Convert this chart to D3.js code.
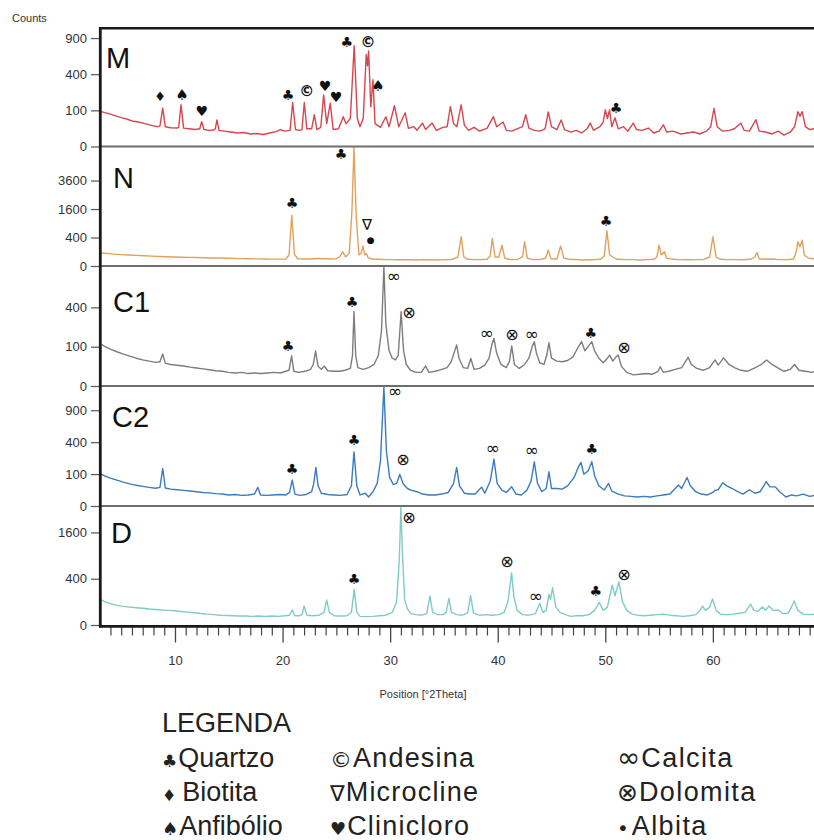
<!DOCTYPE html>
<html><head><meta charset="utf-8">
<script src="https://cdn.jsdelivr.net/npm/d3@7"></script>
<style>
body{margin:0;background:#fff}
text{font-family:"Liberation Sans",Arial,sans-serif}
</style>
</head><body>
<svg id="c" width="814" height="840"></svg>
<script>
// ---------------- DATA ----------------
const panelNames = ["M","N","C1","C2","D"];
const panelMax = [1075, 7040, 932, 1413, 2644];
const panelTicks = [[0,100,400,900],[0,400,1600,3600],[0,100,400],[0,100,400,900],[0,400,1600]];
const thetaTicks = [10,20,30,40,50,60];
const thetaMinor = [4,5,6,7,8,9,11,12,13,14,15,16,17,18,19,21,22,23,24,25,26,27,28,29,31,32,33,34,35,36,37,38,39,41,42,43,44,45,46,47,48,49,51,52,53,54,55,56,57,58,59,61,62,63,64,65,66,67,68,69];

const seriesM = [[3.0,95],[3.5,88],[4.0,80],[4.5,72],[5.0,64],[5.5,58],[6.0,50],[6.6,46],[7.2,40],[7.8,34],[8.4,30],[8.6,32],[8.86,113],[9.1,30],[9.6,27],[10.2,26],[10.35,28],[10.56,133],[10.8,26],[11.3,24],[11.9,22],[12.3,24],[12.48,47],[12.7,22],[13.2,20],[13.6,21],[13.75,24],[13.9,54],[14.1,20],[14.6,18],[15.2,16],[15.8,14],[16.4,15],[17.0,12],[17.6,13],[18.2,11],[18.8,14],[19.4,17],[19.8,22],[20.2,18],[20.7,20],[20.94,148],[21.2,22],[21.6,20],[21.8,22],[22.02,148],[22.25,24],[22.7,24],[22.95,77],[23.2,22],[23.55,28],[23.82,204],[24.1,40],[24.44,144],[24.7,22],[25.2,24],[25.64,68],[25.9,40],[26.3,60],[26.66,779],[26.95,60],[27.2,30],[27.5,60],[27.78,650],[27.9,500],[28.0,700],[28.2,120],[28.4,341],[28.6,40],[29.1,28],[29.6,68],[29.9,30],[30.4,127],[30.8,30],[31.4,87],[31.7,25],[32.2,30],[32.5,20],[33.0,42],[33.3,22],[33.9,42],[34.3,20],[34.9,28],[35.3,30],[35.6,122],[35.9,40],[36.2,30],[36.6,133],[36.9,35],[37.3,20],[37.8,28],[38.3,18],[39.0,25],[39.6,68],[39.9,30],[40.5,46],[40.8,20],[41.3,18],[41.8,24],[42.3,30],[42.6,77],[42.9,26],[43.4,20],[43.9,18],[44.4,24],[44.7,92],[45.0,30],[45.5,22],[45.9,54],[46.2,22],[46.8,16],[47.3,20],[47.8,14],[48.3,24],[48.6,42],[48.9,20],[49.5,30],[49.8,45],[50.0,103],[50.2,60],[50.4,103],[50.6,30],[50.9,63],[51.2,24],[51.7,30],[52.1,18],[52.6,42],[52.9,22],[53.4,20],[54.0,26],[54.5,14],[55.0,18],[55.4,36],[55.7,16],[56.3,18],[57.0,12],[57.6,14],[58.2,16],[58.8,12],[59.4,18],[59.8,30],[60.1,112],[60.4,30],[60.9,18],[61.5,20],[62.0,24],[62.6,42],[62.9,20],[63.4,18],[64.0,55],[64.3,18],[64.9,16],[65.5,12],[66.1,18],[66.6,10],[67.2,16],[67.6,30],[67.9,93],[68.1,70],[68.3,93],[68.6,30],[69.0,22],[69.6,25]];

const seriesN = [[3.0,86],[3.6,78],[4.3,70],[5.0,64],[5.7,60],[6.4,56],[7.1,52],[7.8,48],[8.5,45],[9.2,42],[9.9,40],[10.6,38],[11.3,37],[12.0,36],[12.7,34],[13.4,32],[14.1,31],[14.8,30],[15.5,29],[16.2,27],[16.9,26],[17.6,25],[18.3,24],[19.0,23],[19.7,23],[20.3,24],[20.6,60],[20.86,1272],[21.1,70],[21.4,26],[22.0,24],[22.6,24],[23.2,28],[23.8,26],[24.4,24],[25.0,26],[25.3,40],[25.6,100],[25.85,40],[26.2,80],[26.45,1500],[26.64,6960],[26.85,1200],[27.1,60],[27.3,80],[27.47,196],[27.65,60],[27.8,75],[27.95,35],[28.3,24],[28.9,22],[29.5,20],[30.1,20],[30.7,19],[31.3,20],[31.9,19],[32.5,18],[33.1,20],[33.7,19],[34.3,18],[35.0,20],[35.7,20],[36.3,40],[36.6,420],[36.85,40],[37.2,22],[37.8,20],[38.4,20],[39.0,22],[39.3,50],[39.5,375],[39.75,40],[40.1,40],[40.4,216],[40.65,30],[41.2,20],[41.8,20],[42.3,40],[42.5,289],[42.75,30],[43.3,20],[43.9,20],[44.45,30],[44.7,125],[44.95,25],[45.5,24],[45.85,196],[46.15,30],[46.7,22],[47.3,20],[47.9,18],[48.5,19],[49.1,20],[49.6,24],[49.9,50],[50.15,610],[50.4,60],[50.7,40],[51.1,22],[51.8,20],[52.5,20],[53.2,18],[53.9,20],[54.5,22],[54.8,40],[55.0,216],[55.2,60],[55.5,100],[55.7,30],[56.3,22],[57.0,20],[57.7,19],[58.4,20],[59.1,20],[59.7,40],[60.0,420],[60.3,40],[60.7,22],[61.4,20],[62.1,20],[62.8,19],[63.5,22],[63.9,40],[64.1,90],[64.3,26],[64.9,22],[65.5,24],[66.2,20],[66.9,20],[67.5,24],[67.75,100],[67.9,289],[68.1,180],[68.3,330],[68.5,60],[68.9,30],[69.6,24]];

const seriesC1 = [[3.0,118],[3.5,100],[4.0,88],[4.6,76],[5.2,66],[5.8,58],[6.4,50],[7.0,44],[7.6,40],[8.2,36],[8.6,38],[8.86,66],[9.1,34],[9.6,30],[10.2,28],[10.8,26],[11.4,23],[12.0,21],[12.6,19],[13.2,17],[13.8,15],[14.4,14],[15.0,12],[15.6,11],[16.2,12],[16.8,10],[17.4,11],[18.0,10],[18.6,11],[19.2,12],[19.8,11],[20.3,14],[20.6,16],[20.84,59],[21.05,14],[21.5,12],[22.1,14],[22.6,18],[22.85,30],[23.07,79],[23.3,25],[23.6,18],[23.9,25],[24.2,15],[24.8,14],[25.3,14],[25.8,16],[26.3,20],[26.5,60],[26.64,357],[26.8,60],[27.0,22],[27.5,18],[28.0,22],[28.5,30],[28.9,60],[29.2,200],[29.42,921],[29.6,250],[29.9,80],[30.2,50],[30.5,44],[30.75,60],[31.02,357],[31.25,80],[31.5,30],[31.9,16],[32.4,12],[32.9,12],[33.3,26],[33.6,12],[34.2,14],[34.8,18],[35.3,22],[35.7,40],[36.0,80],[36.18,109],[36.4,50],[36.8,22],[37.2,20],[37.5,49],[37.8,18],[38.3,20],[38.8,28],[39.2,50],[39.45,110],[39.65,147],[39.9,70],[40.3,30],[40.8,22],[41.1,40],[41.3,104],[41.55,30],[42.0,20],[42.5,30],[42.9,50],[43.2,100],[43.4,127],[43.6,70],[43.9,35],[44.3,30],[44.55,60],[44.76,121],[45.0,50],[45.5,40],[46.0,38],[46.5,42],[47.0,55],[47.4,90],[47.8,127],[48.1,80],[48.4,100],[48.75,127],[49.0,80],[49.4,50],[49.8,35],[50.2,50],[50.4,62],[50.7,40],[51.0,55],[51.2,62],[51.5,25],[52.0,12],[52.6,8],[53.2,9],[53.8,10],[54.4,9],[54.9,14],[55.1,24],[55.4,12],[55.9,14],[56.5,18],[57.1,22],[57.7,53],[58.0,30],[58.5,20],[59.1,16],[59.7,22],[60.2,44],[60.5,28],[61.0,51],[61.5,30],[62.0,22],[62.6,16],[63.2,14],[63.8,20],[64.4,28],[65.0,44],[65.5,30],[66.0,22],[66.6,14],[67.2,18],[67.6,30],[68.0,16],[68.6,14],[69.2,12],[69.6,14]];

const seriesC2 = [[3.0,104],[3.5,88],[4.0,76],[4.6,66],[5.2,56],[5.8,48],[6.4,42],[7.0,38],[7.6,34],[8.2,31],[8.6,34],[8.86,139],[9.1,32],[9.6,28],[10.2,26],[10.8,24],[11.4,22],[12.0,20],[12.6,18],[13.2,17],[13.8,15],[14.4,14],[15.0,12],[15.6,13],[16.2,11],[16.8,12],[17.4,14],[17.7,34],[17.95,12],[18.5,11],[19.1,12],[19.7,13],[20.3,12],[20.65,18],[20.9,66],[21.15,14],[21.6,11],[22.2,13],[22.7,20],[22.9,50],[23.1,146],[23.3,40],[23.6,16],[24.2,13],[24.8,12],[25.4,11],[26.0,13],[26.4,40],[26.64,288],[26.9,40],[27.2,12],[27.7,16],[28.0,8],[28.4,20],[28.8,50],[29.1,200],[29.42,1390],[29.65,300],[29.95,80],[30.3,45],[30.6,50],[30.9,98],[31.2,50],[31.6,30],[32.0,24],[32.5,20],[33.0,14],[33.6,12],[34.2,12],[34.8,14],[35.4,18],[35.9,50],[36.18,146],[36.45,40],[36.9,16],[37.4,14],[37.9,14],[38.5,35],[38.8,16],[39.3,60],[39.65,216],[39.95,50],[40.4,24],[40.8,18],[41.3,36],[41.7,14],[42.2,12],[42.7,24],[43.1,60],[43.4,192],[43.7,50],[44.1,20],[44.5,30],[44.76,115],[45.0,30],[45.5,30],[46.0,28],[46.5,40],[47.1,80],[47.5,150],[47.74,186],[48.0,100],[48.4,120],[48.75,192],[49.0,90],[49.4,40],[49.9,25],[50.3,50],[50.6,22],[51.2,14],[51.8,10],[52.4,9],[53.0,8],[53.6,9],[54.2,8],[54.8,10],[55.4,12],[56.0,14],[56.5,30],[56.8,43],[57.1,30],[57.6,80],[57.9,40],[58.4,20],[58.9,14],[59.5,12],[60.0,18],[60.2,24],[60.5,26],[60.9,53],[61.3,40],[61.8,30],[62.3,20],[62.8,14],[63.4,26],[63.9,16],[64.4,20],[64.96,58],[65.3,36],[65.8,36],[66.2,20],[66.8,8],[67.3,12],[67.8,10],[68.4,14],[69.0,9],[69.6,12]];

const seriesD = [[3.0,126],[3.5,100],[4.0,85],[4.6,72],[5.2,65],[5.8,60],[6.4,56],[7.0,52],[7.6,48],[8.2,45],[8.8,42],[9.4,40],[10.0,38],[10.6,34],[11.2,31],[11.8,28],[12.4,25],[13.0,22],[13.6,20],[14.2,18],[14.8,17],[15.4,16],[16.0,15],[16.6,15],[17.2,14],[17.8,15],[18.4,14],[19.0,15],[19.6,14],[20.2,16],[20.65,18],[20.9,42],[21.15,16],[21.6,16],[21.8,20],[22.0,67],[22.25,18],[22.8,16],[23.4,18],[23.85,30],[24.1,116],[24.35,30],[24.8,16],[25.4,15],[26.0,16],[26.4,30],[26.66,237],[26.9,30],[27.2,14],[27.8,13],[28.4,14],[29.0,16],[29.6,18],[30.2,30],[30.6,100],[30.85,800],[31.0,2600],[31.15,900],[31.35,120],[31.6,50],[31.9,24],[32.4,20],[32.9,18],[33.4,24],[33.7,156],[33.95,30],[34.4,20],[34.9,20],[35.2,30],[35.46,132],[35.7,30],[36.2,20],[36.7,18],[37.2,26],[37.48,160],[37.75,26],[38.3,18],[38.9,20],[39.5,18],[40.1,20],[40.6,30],[40.95,100],[41.29,508],[41.5,150],[41.8,40],[42.3,20],[42.9,18],[43.5,24],[43.9,87],[44.2,30],[44.5,40],[44.76,175],[44.9,120],[45.1,259],[45.4,60],[45.8,30],[46.3,20],[46.8,14],[47.3,16],[47.9,16],[48.5,20],[49.0,40],[49.45,96],[49.8,40],[50.2,60],[50.64,297],[50.9,160],[51.26,348],[51.6,100],[52.0,40],[52.5,22],[53.0,18],[53.6,16],[54.2,18],[54.8,20],[55.4,22],[56.0,18],[56.6,16],[57.2,14],[57.8,16],[58.4,20],[58.8,40],[59.05,67],[59.3,40],[59.7,60],[59.97,126],[60.3,40],[60.7,22],[61.3,20],[61.9,22],[62.5,26],[63.0,30],[63.5,82],[63.8,40],[64.2,35],[64.6,61],[64.9,40],[65.2,67],[65.6,40],[66.1,42],[66.5,24],[67.0,26],[67.3,60],[67.56,107],[67.9,40],[68.4,22],[69.0,20],[69.6,22]];

// peak labels: [symbol, 2theta, counts]
const markersM = [["♦",8.61,189],["♠",10.65,205],["♥",12.5,97],["♣",20.5,205],["©",22.26,238],["♥",23.94,282],["♥",24.96,189],["♣",25.98,843],["©",27.94,843],["♠",28.87,282],["♣",50.99,114]];
const markersN = [["♣",20.87,1941],["♣",25.43,6134],["∇",27.85,822],["●",28.2,331],["♣",50.06,990]];
const markersC1 = [["♣",20.5,104],["♣",26.45,457],["∞",30.35,783],["⊗",31.74,345],["∞",39.0,182],["⊗",41.32,175],["∞",43.18,175],["♣",48.66,182],["⊗",51.73,98]];
const markersC2 = [["♣",20.87,134],["♣",26.64,425],["∞",30.45,1291],["⊗",31.2,216],["∞",39.55,328],["∞",43.18,306],["♣",48.75,317]];
const markersD = [["♣",26.64,393],["⊗",31.74,2167],["⊗",40.85,761],["∞",43.55,156],["♣",49.12,215],["⊗",51.73,483]];

const legendSymbols = ["♣","♦","♠","©","∇","♥","∞","⊗","•"];
const legendNames = ["Quartzo","Biotita","Anfibólio","Andesina","Microcline","Clinicloro","Calcita","Dolomita","Albita"];

// ---------------- DRAW ----------------
const series = [seriesM, seriesN, seriesC1, seriesC2, seriesD];
const markers = [markersM, markersN, markersC1, markersC2, markersD];
const colors = ["#d6464f","#e0a25c","#7d7d7d","#3a7cbd","#80cbc6"];
const zeros = [146.5, 266, 386, 506, 625];
const tops = [28, 146.5, 266, 386, 506];
const labelPos = [[106,68],[113,188],[113,312],[112,427],[111,543]];
const symSize = {"♣":14,"♦":13,"♠":15,"♥":14,"©":15,"∇":15,"∞":17,"⊗":16,"●":9};

const svg = d3.select("#c");
const x = d3.scaleLinear().domain([3.03, 69.4]).range([100, 814]);

const defs = svg.append("defs");

panelNames.forEach((name, i) => {
  const y = d3.scaleSqrt().domain([0, panelMax[i]]).range([zeros[i], tops[i]]);
  defs.append("clipPath").attr("id", "clip" + i).append("rect")
    .attr("x", 100).attr("y", tops[i]).attr("width", 714).attr("height", zeros[i] - tops[i]);
  const g = svg.append("g");
  g.append("path").datum(series[i])
    .attr("clip-path", "url(#clip" + i + ")")
    .attr("fill", "none").attr("stroke", colors[i]).attr("stroke-width", 1.4)
    .attr("stroke-linejoin", "round")
    .attr("d", d3.line().x(d => x(d[0])).y(d => y(d[1])));
  const ax = svg.append("g").attr("transform", "translate(100,0)")
    .call(d3.axisLeft(y).tickValues(panelTicks[i]).tickSize(9).tickPadding(4).tickFormat(d3.format("d")));
  ax.select(".domain").remove();
  ax.selectAll("line").attr("stroke", "#555").attr("stroke-width", 1.2);
  ax.selectAll("text").attr("fill", "#333").style("font-size", "13px").style("font-family", "'Liberation Sans',Arial,sans-serif");
  svg.append("text").attr("x", labelPos[i][0]).attr("y", labelPos[i][1])
    .style("font-size", "29px").attr("fill", "#111").text(name);
  svg.append("g").selectAll("text").data(markers[i]).join("text")
    .attr("x", d => x(d[1])).attr("y", d => y(d[2]))
    .attr("text-anchor", "middle").attr("dominant-baseline", "central")
    .style("font-family", "'DejaVu Sans',sans-serif")
    .style("font-size", d => symSize[d[0]] + "px")
    .style("font-weight", i === 0 ? "bold" : "normal")
    .attr("fill", "#111").text(d => d[0]);
});

// panel separators
[146.5, 266, 386, 506].forEach(yy => {
  svg.append("line").attr("x1", 100).attr("x2", 814).attr("y1", yy).attr("y2", yy)
    .attr("stroke", "#6e6e6e").attr("stroke-width", 2);
});
svg.append("line").attr("x1", 99).attr("x2", 814).attr("y1", 28.3).attr("y2", 28.3)
  .attr("stroke", "#1a1a1a").attr("stroke-width", 2.6);
svg.append("line").attr("x1", 100.3).attr("x2", 100.3).attr("y1", 27).attr("y2", 627.5)
  .attr("stroke", "#1a1a1a").attr("stroke-width", 2.8);

// bottom axis
const bx = svg.append("g").attr("transform", "translate(0,626.5)")
  .call(d3.axisBottom(x).tickValues(thetaTicks).tickSize(16).tickPadding(13).tickFormat(d3.format("d")));
bx.select(".domain").remove();
bx.selectAll("line").attr("stroke", "#444").attr("stroke-width", 1.3);
bx.selectAll("text").attr("fill", "#333").style("font-size", "13px").style("font-family", "'Liberation Sans',Arial,sans-serif");
const bm = svg.append("g").attr("transform", "translate(0,626.5)")
  .call(d3.axisBottom(x).tickValues(thetaMinor).tickSize(9).tickFormat(""));
bm.select(".domain").remove();
bm.selectAll("line").attr("stroke", "#444").attr("stroke-width", 1.2);
svg.append("line").attr("x1", 99).attr("x2", 814).attr("y1", 626.3).attr("y2", 626.3)
  .attr("stroke", "#1a1a1a").attr("stroke-width", 2.8);

// axis titles
svg.append("text").attr("x", 12).attr("y", 22).style("font-size", "11px").attr("fill", "#333").text("Counts");
svg.append("text").attr("x", 423).attr("y", 698).attr("text-anchor", "middle")
  .style("font-size", "11px").attr("fill", "#333").text("Position [°2Theta]");

// legend
svg.append("text").attr("x", 162).attr("y", 732).style("font-size", "27px").attr("fill", "#222").text("LEGENDA");
const colX = [162, 330, 617];
const rowY = [767, 801, 835];
const colSpacing = [0, 1.2, 1.4];
const legSymSize = {"♣":17,"♦":16,"♠":18,"♥":18,"©":22,"∇":22,"∞":28,"⊗":25,"•":20};
const legGap = {"♣":1,"♦":6,"♠":1,"♥":1,"©":1,"∇":1,"∞":1,"⊗":1,"•":3};
legendNames.forEach((nm, k) => {
  const col = Math.floor(k / 3);
  const t = svg.append("text").attr("x", colX[col]).attr("y", rowY[k % 3])
    .style("font-size", "27px").attr("fill", "#222");
  t.append("tspan").style("font-family", "'DejaVu Sans',sans-serif")
    .style("font-size", legSymSize[legendSymbols[k]] + "px").text(legendSymbols[k]);
  t.append("tspan").attr("dx", legGap[legendSymbols[k]])
    .style("letter-spacing", colSpacing[col] + "px").text(nm);
});
</script>
</body></html>
